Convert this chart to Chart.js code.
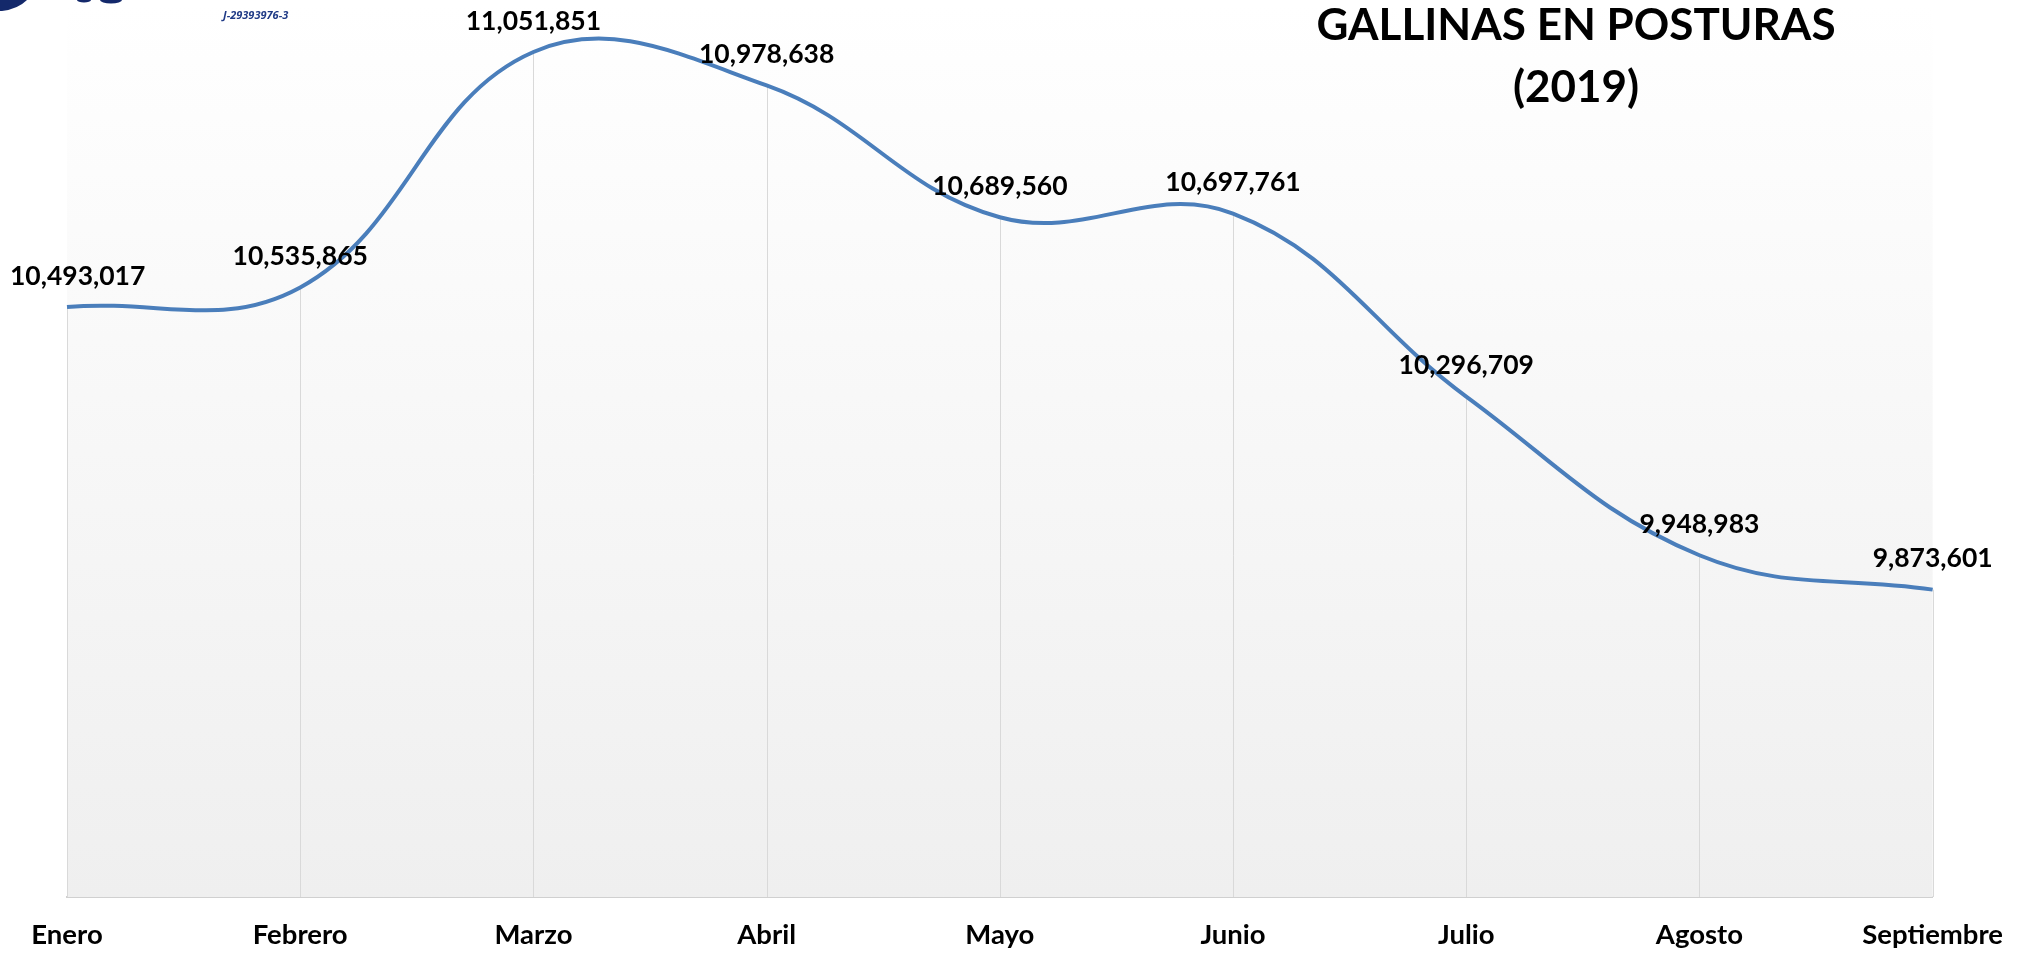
<!DOCTYPE html>
<html lang="es">
<head>
<meta charset="utf-8">
<title>Gallinas en posturas (2019)</title>
<script src="https://cdn.jsdelivr.net/npm/chart.js@4.4.1/dist/chart.umd.min.js"></script>
<style>
  html, body { margin: 0; padding: 0; background: #ffffff; }
  #wrap { width: 2025px; height: 953px; position: relative; }
  canvas { display: block; }
</style>
</head>
<body>
<div id="wrap"><canvas id="chart" width="2025" height="953"></canvas></div>
<script>
// Monthly number of laying hens, 2019
const months = ['Enero', 'Febrero', 'Marzo', 'Abril', 'Mayo', 'Junio', 'Julio', 'Agosto', 'Septiembre'];
const hens = [10493017, 10535865, 11051851, 10978638, 10689560, 10697761, 10296709, 9948983, 9873601];
const titleLines = ['GALLINAS EN POSTURAS', '(2019)'];
const rifText = 'J-29393976-3';

const FONT = 'Lato, "Open Sans", "Liberation Sans", sans-serif';
const fmt = v => v.toLocaleString('en-US');

// Plot background: white at the top fading to light grey at the bottom
const plotBackground = {
  id: 'plotBackground',
  beforeDatasetsDraw(chart) {
    const { ctx, chartArea: a } = chart;
    const g = ctx.createLinearGradient(0, a.top, 0, a.bottom);
    g.addColorStop(0, '#ffffff');
    g.addColorStop(1, '#efefef');
    ctx.save();
    ctx.fillStyle = g;
    ctx.fillRect(a.left, a.top, a.right - a.left, a.bottom - a.top);
    // drop lines from each point to the category axis
    const meta = chart.getDatasetMeta(0);
    ctx.strokeStyle = '#d9d9d9';
    ctx.lineWidth = 1;
    meta.data.forEach(pt => {
      const x = Math.round(pt.x) + 0.5;
      ctx.beginPath();
      ctx.moveTo(x, pt.y);
      ctx.lineTo(x, a.bottom);
      ctx.stroke();
    });
    ctx.restore();
  }
};

// Value labels above each point
const valueLabels = {
  id: 'valueLabels',
  afterDatasetsDraw(chart) {
    const { ctx } = chart;
    const meta = chart.getDatasetMeta(0);
    const values = chart.data.datasets[0].data;
    ctx.save();
    ctx.font = 'bold 26.5px ' + FONT;
    ctx.fillStyle = '#000000';
    ctx.textAlign = 'center';
    ctx.textBaseline = 'middle';
    meta.data.forEach((pt, i) => {
      const text = fmt(values[i]);
      const w = ctx.measureText(text).width;
      const x = Math.max(pt.x, 10 + w / 2);
      ctx.fillText(text, x, pt.y - 31);
    });
    ctx.restore();
  }
};

// Heading and company identifier
const heading = {
  id: 'heading',
  afterDraw(chart) {
    const { ctx } = chart;
    ctx.save();
    // fragments of the company logo along the top edge
    ctx.fillStyle = '#14296b';
    ctx.beginPath();
    ctx.moveTo(0, 0);
    ctx.lineTo(27, 0);
    ctx.quadraticCurveTo(18, 9, 2, 11);
    ctx.lineTo(0, 11);
    ctx.closePath();
    ctx.fill();
    ctx.beginPath();
    ctx.ellipse(84, 0, 7, 2.5, 0, 0, Math.PI);
    ctx.fill();
    ctx.beginPath();
    ctx.ellipse(111, 0, 11, 3.5, 0, 0, Math.PI);
    ctx.fill();

    ctx.fillStyle = '#1f3a86';
    ctx.font = 'italic bold 11px "Open Sans", ' + FONT;
    ctx.textAlign = 'left';
    ctx.textBaseline = 'middle';
    ctx.fillText(rifText, 223, 16);

    ctx.fillStyle = '#000000';
    ctx.font = 'bold 44px ' + FONT;
    ctx.textAlign = 'center';
    ctx.fillText(titleLines[0], 1576, 26);
    ctx.fillText(titleLines[1], 1576, 88);
    ctx.restore();
  }
};

new Chart(document.getElementById('chart'), {
  type: 'line',
  data: {
    labels: months,
    datasets: [{
      data: hens,
      borderColor: '#4a7ebb',
      borderWidth: 4,
      tension: 0.4,
      pointRadius: 0,
      pointHoverRadius: 0,
      fill: false
    }]
  },
  options: {
    responsive: false,
    devicePixelRatio: 1,
    animation: false,
    layout: { padding: { left: 67, right: 92, top: 4, bottom: -21 } },
    plugins: {
      legend: { display: false },
      title: { display: false },
      tooltip: { enabled: false }
    },
    scales: {
      x: {
        offset: false,
        grid: { display: false, drawTicks: false },
        border: { display: true, color: '#d0d0d0', width: 2 },
        ticks: {
          padding: 22,
          maxRotation: 0,
          autoSkip: false,
          color: '#000000',
          font: { family: FONT, size: 27.5, weight: 'bold', lineHeight: 1.2 }
        }
      },
      y: {
        display: false,
        min: 9200000,
        max: 11157000
      }
    }
  },
  plugins: [plotBackground, valueLabels, heading]
});
</script>
</body>
</html>
